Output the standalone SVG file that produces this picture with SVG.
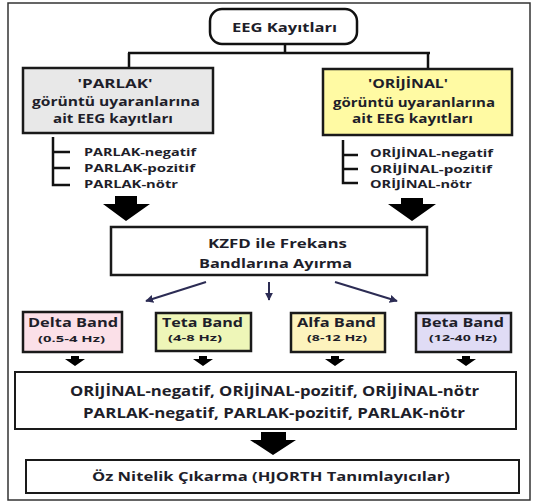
<svg xmlns="http://www.w3.org/2000/svg" width="534" height="503" viewBox="0 0 534 503">
<style>
.t{font-family:"Open Sans","DejaVu Sans","Liberation Sans",sans-serif;font-weight:bold;fill:#1e1e2a}
.box{stroke:#1a1a1a;stroke-width:2.5}
.ln{stroke:#111;stroke-width:2.5;fill:none}
.blk{fill:#000}
.thin{stroke:#2c2c54;stroke-width:2;fill:none;marker-end:url(#ah)}
</style>
<defs>
<marker id="ah" viewBox="0 0 10 10" refX="9" refY="5" markerWidth="4" markerHeight="4" orient="auto">
<path d="M0,0 L10,5 L0,10 Z" fill="#2c2c54"/>
</marker>
</defs>
<rect x="8" y="3" width="522" height="497" fill="#fff" stroke="#333" stroke-width="1.5"/>

<g id="connectors">
<path class="ln" d="M285,44 V53 M128,53 H430 M129,53 V68 M428,53 V69" stroke-width="3"/>
<path class="ln" d="M53,137 V185 H70 M53,152 H70 M53,168 H70"/>
<path class="ln" d="M343,140 V183 H358 M343,155 H358 M343,169 H358"/>
<path class="blk" d="M115,196 H137 V204 H150 L126,221 L103,204 H115 Z"/>
<path class="blk" d="M401,198 H423 V204 H436 L412,221 L388,204 H401 Z"/>
<path class="thin" d="M206,282 L146,301"/>
<path class="thin" d="M269,282 L269,300"/>
<path class="thin" d="M335,282 L397,301"/>
<path class="blk" d="M71,356 H79 V359 H85 L75,366 L65,359 H71 Z"/>
<path class="blk" d="M199,356 H207 V359 H213 L203,366 L193,359 H199 Z"/>
<path class="blk" d="M331,356 H339 V359 H345 L335,366 L325,359 H331 Z"/>
<path class="blk" d="M462,356 H470 V359 H476 L466,366 L456,359 H462 Z"/>
<path class="blk" d="M261,432 H286 V440 H296 L273,455 L250,440 H261 Z"/>
</g>

<g id="eeg">
<rect x="210" y="9" width="147" height="35" rx="12" fill="#fff" stroke="#111" stroke-width="2.5"/>
<text class="t" x="284.5" y="32" font-size="13" text-anchor="middle" textLength="105" lengthAdjust="spacingAndGlyphs">EEG Kayıtları</text>
</g>

<g id="parlak">
<rect class="box" x="23" y="68" width="190" height="65" fill="#e8e8e8" stroke-width="3"/>
<text class="t" x="115" y="88" font-size="12" text-anchor="middle" textLength="75" lengthAdjust="spacingAndGlyphs">'PARLAK'</text>
<text class="t" x="116" y="106" font-size="12" text-anchor="middle" textLength="168" lengthAdjust="spacingAndGlyphs">görüntü uyaranlarına</text>
<text class="t" x="113" y="123" font-size="12" text-anchor="middle" textLength="120" lengthAdjust="spacingAndGlyphs">ait EEG kayıtları</text>
</g>

<g id="parlak-list">
<text class="t" x="84" y="156" font-size="11" textLength="112" lengthAdjust="spacingAndGlyphs">PARLAK-negatif</text>
<text class="t" x="84" y="172" font-size="11" textLength="111" lengthAdjust="spacingAndGlyphs">PARLAK-pozitif</text>
<text class="t" x="84" y="188" font-size="11" textLength="94" lengthAdjust="spacingAndGlyphs">PARLAK-nötr</text>
</g>

<g id="orijinal">
<rect class="box" x="323" y="69" width="189" height="66" fill="#fffaa3" stroke-width="3"/>
<text class="t" x="408" y="88" font-size="12" text-anchor="middle" textLength="80" lengthAdjust="spacingAndGlyphs">'ORİJİNAL'</text>
<text class="t" x="414" y="107" font-size="12" text-anchor="middle" textLength="162" lengthAdjust="spacingAndGlyphs">görüntü uyaranlarına</text>
<text class="t" x="412.5" y="123" font-size="12" text-anchor="middle" textLength="121" lengthAdjust="spacingAndGlyphs">ait EEG kayıtları</text>
</g>

<g id="orijinal-list">
<text class="t" x="370" y="157" font-size="11" textLength="123" lengthAdjust="spacingAndGlyphs">ORİJİNAL-negatif</text>
<text class="t" x="370" y="173" font-size="11" textLength="122" lengthAdjust="spacingAndGlyphs">ORİJİNAL-pozitif</text>
<text class="t" x="370" y="188" font-size="11" textLength="102" lengthAdjust="spacingAndGlyphs">ORİJİNAL-nötr</text>
</g>

<g id="kzfd">
<rect class="box" x="111" y="227" width="316" height="48" fill="#fff"/>
<text class="t" x="277.5" y="248" font-size="13" text-anchor="middle" textLength="139" lengthAdjust="spacingAndGlyphs">KZFD ile Frekans</text>
<text class="t" x="275.5" y="268" font-size="13" text-anchor="middle" textLength="153" lengthAdjust="spacingAndGlyphs">Bandlarına Ayırma</text>
</g>

<g id="delta">
<rect class="box" x="23" y="312" width="99" height="40" fill="#fbe0e8"/>
<text class="t" x="73" y="327" font-size="12" text-anchor="middle" textLength="90" lengthAdjust="spacingAndGlyphs">Delta Band</text>
<text class="t" x="71.5" y="342" font-size="9" text-anchor="middle" textLength="67" lengthAdjust="spacingAndGlyphs">(0.5-4 Hz)</text>
</g>
<g id="teta">
<rect class="box" x="156" y="313" width="95" height="38" fill="#eef6b8"/>
<text class="t" x="202.5" y="327" font-size="12" text-anchor="middle" textLength="81" lengthAdjust="spacingAndGlyphs">Teta Band</text>
<text class="t" x="195" y="341" font-size="9" text-anchor="middle" textLength="54" lengthAdjust="spacingAndGlyphs">(4-8 Hz)</text>
</g>
<g id="alfa">
<rect class="box" x="291" y="313" width="94" height="39" fill="#fdf3bd"/>
<text class="t" x="336.5" y="327" font-size="12" text-anchor="middle" textLength="79" lengthAdjust="spacingAndGlyphs">Alfa Band</text>
<text class="t" x="337" y="341" font-size="9" text-anchor="middle" textLength="60" lengthAdjust="spacingAndGlyphs">(8-12 Hz)</text>
</g>
<g id="beta">
<rect class="box" x="416" y="313" width="95" height="39" fill="#e0dcf5"/>
<text class="t" x="462.5" y="327" font-size="12" text-anchor="middle" textLength="83" lengthAdjust="spacingAndGlyphs">Beta Band</text>
<text class="t" x="463" y="341" font-size="9" text-anchor="middle" textLength="68" lengthAdjust="spacingAndGlyphs">(12-40 Hz)</text>
</g>

<g id="combined">
<rect x="15" y="372" width="501" height="57" fill="#fff" stroke="#1a1a1a" stroke-width="2"/>
<text class="t" x="274.5" y="396" font-size="15" font-weight="600" text-anchor="middle" textLength="409" lengthAdjust="spacingAndGlyphs">ORİJİNAL-negatif, ORİJİNAL-pozitif, ORİJİNAL-nötr</text>
<text class="t" x="274" y="418" font-size="15" font-weight="600" text-anchor="middle" textLength="382" lengthAdjust="spacingAndGlyphs">PARLAK-negatif, PARLAK-pozitif, PARLAK-nötr</text>
</g>

<g id="hjorth">
<rect x="26" y="460" width="493" height="33" fill="#fff" stroke="#1a1a1a" stroke-width="2"/>
<text class="t" x="271" y="481" font-size="13" text-anchor="middle" textLength="358" lengthAdjust="spacingAndGlyphs">Öz Nitelik Çıkarma (HJORTH Tanımlayıcılar)</text>
</g>
</svg>
